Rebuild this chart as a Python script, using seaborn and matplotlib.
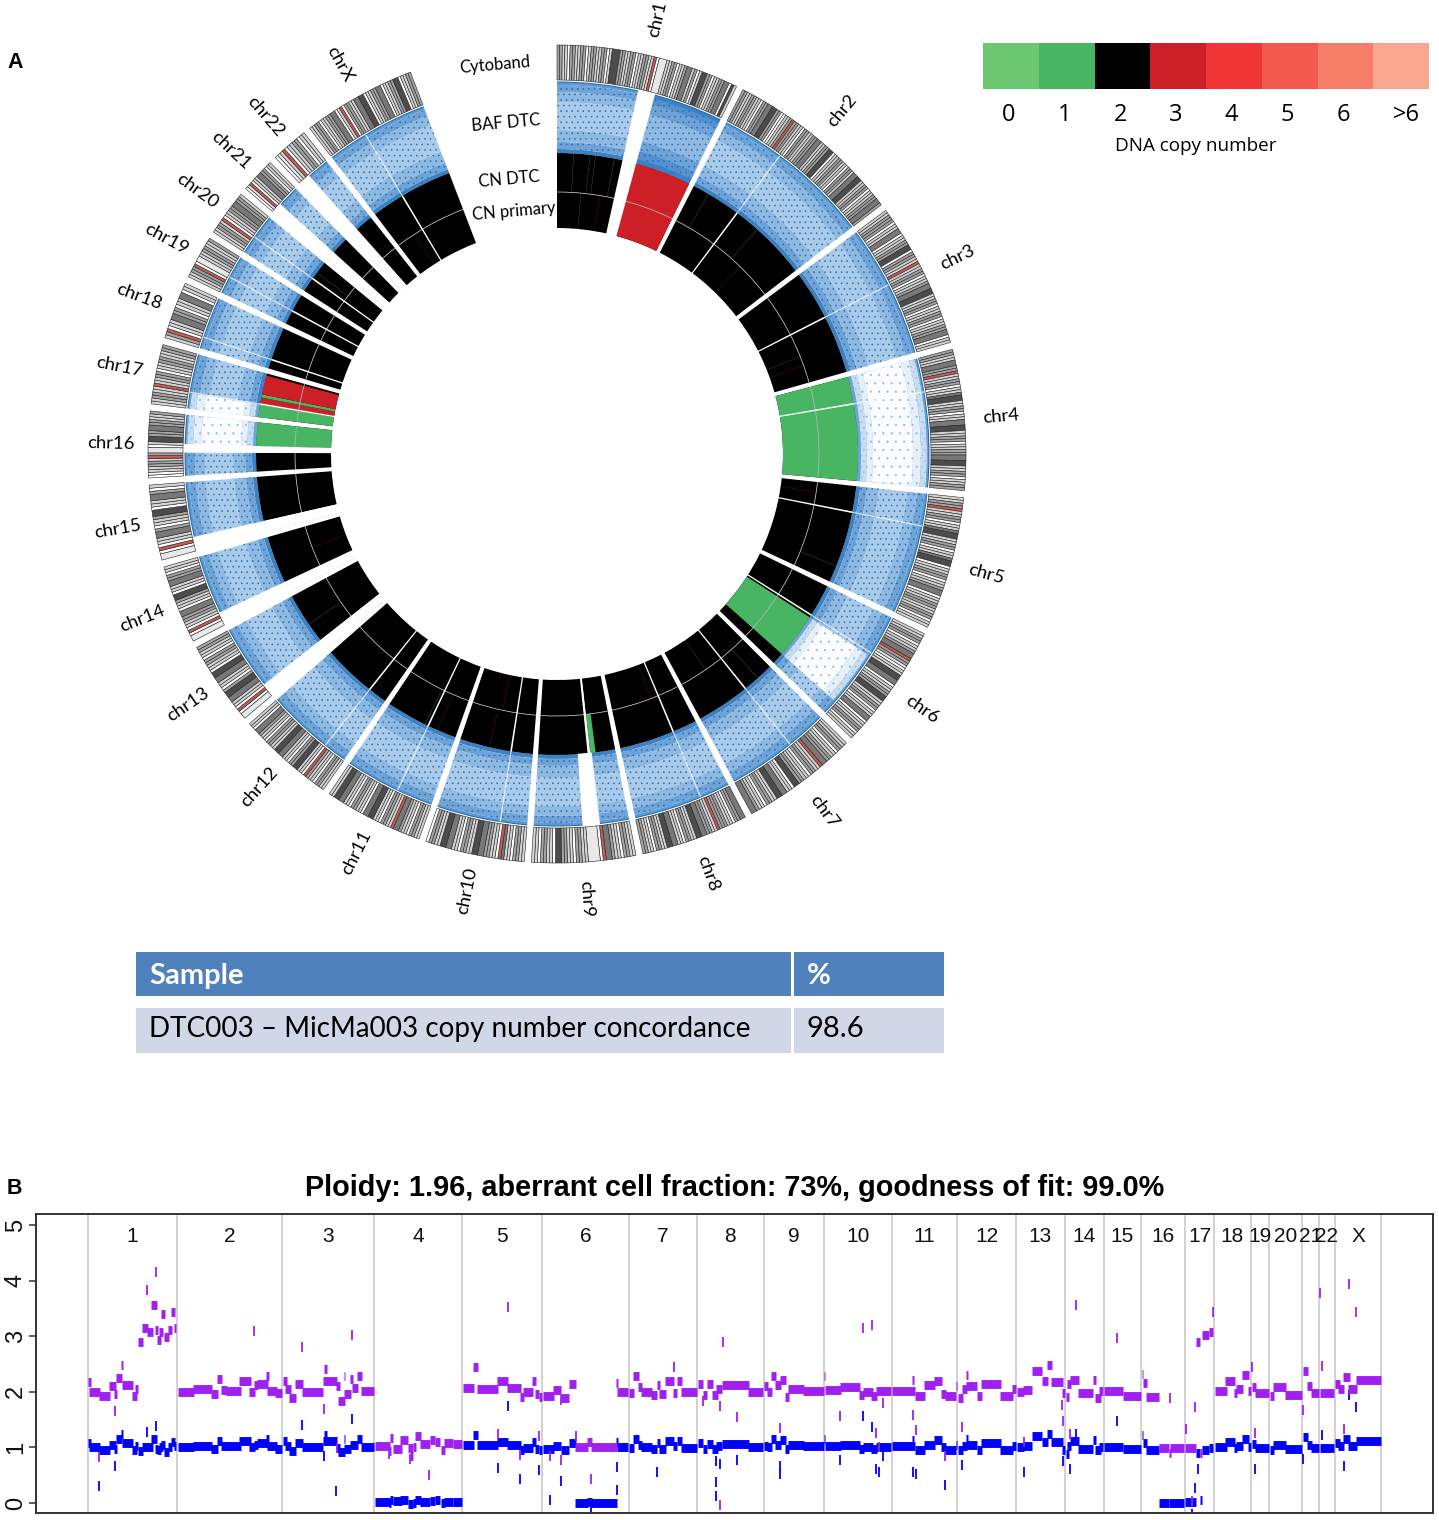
import numpy as np
import pandas as pd
import seaborn as sn
import matplotlib.pyplot as plt
from matplotlib.colors import ListedColormap

# chromosome sizes in Mb, and where the tracks have no probes
chrom_names = ["chr1", "chr2", "chr3", "chr4", "chr5", "chr6", "chr7", "chr8", "chr9", "chr10", "chr11", "chr12",
               "chr13", "chr14", "chr15", "chr16", "chr17", "chr18", "chr19", "chr20", "chr21", "chr22", "chrX"]
chrom_sizes = [249, 243, 198, 191, 181, 171, 159, 146, 141, 135, 135, 133, 115, 107, 102, 90, 81, 78, 59, 63, 48, 51, 155]
centromeres = [125, 93, 91, 50, 48, 60, 60, 45, 48, 40, 54, 35, 18, 17, 19, 36, 24, 17, 26, 27, 13, 15, 60]
baf_gaps = [("chr1", 121, 145), ("chr9", 44, 68), ("chr13", 0, 19), ("chr14", 0, 19), ("chr15", 0, 20),
            ("chr16", 35, 46), ("chr21", 0, 15), ("chr22", 0, 17)]
cn_gaps = [("chr1", 121, 145), ("chr9", 47, 50), ("chr13", 0, 19), ("chr14", 0, 19), ("chr15", 0, 20),
           ("chr16", 35, 46), ("chr21", 0, 15), ("chr22", 0, 17)]

# 0 white, 1 light, 2 mid, 3 dark, 4 darkest, r centromere, h pale
cytobands = [
    "2211022112201221122014442211220112211r0hhh1122011233120144220112233041",
    "2211221102233442200112r2211022112233112244011221102213344112201122332",
    "1122201133011224402211r1122011233441122011220112233011",
    "22113322r1122011344112201133441122011223344112201122",
    "1122r1122011344112201134401122011233011221122011",
    "1122011233r22h0114433011224411220113301122011",
    "11220112233r1122011224401133441122011233",
    "3322011222r1122334411220113344112201122",
    "1122011233r0hhhh1122011224401122011",
    "11220113r0112233441122011334411220",
    "1122011233r1122011443301122011334411",
    "11220112r011442201133441122011233011",
    "hh0r0113344201133440112201122",
    "hh0r01122330112440113322011",
    "hh0r01133201124401133201",
    "0011221r2hh0144223322112",
    "112211r1122011221122",
    "12r011332201133011",
    "1122r0hh1122112",
    "11221r0112233221",
    "0hr0113322011",
    "0h1r01122011",
    "1122011223301r0221133440112233011224401122",
]
band_colours = {"0": "#ffffff", "1": "#d4d4d4", "2": "#a4a4a4", "3": "#787878", "4": "#4c4c4c", "h": "#e8e8e8", "r": "#c85a58"}

# copy number calls in the circular plot
cn_labels = ["0", "1", "2", "3", "4", "5", "6", ">6"]
cn_colours = ["#6cc870", "#47b562", "#000000", "#cc1f26", "#ef3535", "#f3594c", "#f67d67", "#f9a68f"]
cn_changes = [("chr1", 145, 249, 3), ("chr4", 0, 191, 1), ("chr6", 65, 149, 1), ("chr16", 46, 90, 1),
              ("chr17", 0, 23, 1), ("chr17", 25, 36, 3), ("chr17", 36, 42, 1), ("chr17", 42, 77, 3)]
dtc_focal = [("chr1", 30, 1), ("chr1", 60, 1), ("chr1", 70, 1), ("chr1", 105, 1), ("chr2", 30, 1), ("chr2", 140, 1),
             ("chr5", 150, 1), ("chr7", 30, 1), ("chr9", 38, 1), ("chr11", 35, 3),
             ("chr11", 60, 1), ("chr13", 55, 1), ("chr10", 80, 3), ("chr20", 40, 1), ("chr22", 18, 3)]
primary_focal = [("chr1", 50, 1), ("chr1", 90, 3), ("chr2", 165, 3), ("chr3", 140, 1), ("chr3", 160, 3),
                 ("chr5", 20, 3), ("chr7", 100, 1), ("chr8", 60, 3), ("chr10", 70, 3), ("chr14", 60, 3), ("chrX", 40, 3)]

# BAF level: 1 = denser than normal, 2 = loss of heterozygosity
baf_changes = [("chr1", 145, 249, 1), ("chr4", 0, 191, 2), ("chr6", 65, 149, 2), ("chr16", 46, 90, 2), ("chr17", 0, 23, 2)]

track_labels = ["Cytoband", "BAF DTC", "CN DTC", "CN primary"]
table_header = ["Sample", "%"]
table_row = ["DTC003 \u2013 MicMa003 copy number concordance", "98.6"]

# panel B, segments as (start, end, upper copy number, lower copy number)
seg_chr1 = [(88, 91, 2.17, 1.08), (89, 100, 1.99, 1.0), (99, 110, 1.92, 0.95), (109, 116, 2.1, 1.05), (114, 117, 1.97, 0.97),
            (116, 122, 2.25, 1.15), (121, 123, 2.48, 1.24), (122, 133, 2.12, 1.08), (132, 137, 1.92, 0.95), (135, 138, 2.05, 1.03),
            (138, 143, 2.9, 0.93), (142, 148, 3.14, 1.0), (147, 153, 3.08, 1.0), (151, 157, 3.57, 1.15), (155, 158, 3.11, 0.97),
            (157, 161, 2.93, 0.95), (159, 163, 3.08, 1.0), (161, 165, 3.4, 1.05), (164, 169, 2.98, 0.92), (168, 172, 3.11, 1.0),
            (171, 175, 3.44, 1.1), (174, 176, 3.15, 1.03)]
seg_chr2 = [(178, 194, 2.0, 1.0), (193, 212, 2.06, 1.03), (211, 218, 1.96, 0.97), (217, 222, 2.23, 1.11), (221, 227, 2.03, 1.03),
            (226, 241, 2.02, 1.02), (239, 251, 2.2, 1.11), (249, 255, 2.0, 1.0), (254, 258, 2.12, 1.05), (257, 268, 2.14, 1.08),
            (266, 269, 2.28, 1.15), (267, 277, 2.02, 1.02), (275, 282, 1.98, 0.98)]
seg_chr3 = [(283, 287, 2.19, 1.11), (285, 291, 2.05, 1.03), (289, 296, 1.89, 0.93), (295, 303, 2.14, 1.08), (302, 323, 1.99, 1.0),
            (323, 337, 2.19, 1.11), (324, 327, 2.41, 1.23), (336, 340, 2.1, 0.99), (338, 345, 1.84, 0.91), (344, 351, 1.96, 0.97),
            (344, 345, 2.29, 1.15), (350, 353, 2.23, 1.05), (352, 358, 2.07, 1.05), (357, 362, 2.29, 1.15), (361, 374, 2.02, 1.0)]
seg_chr4 = [(375, 390, 1.03, 0.01), (390, 393, 1.17, 0.06), (389, 391, 0.93, 0.0), (393, 402, 0.97, 0.03), (400, 408, 1.14, 0.05),
            (408, 413, 0.99, -0.01), (410, 413, 0.84, -0.02), (415, 421, 1.2, 0.06), (413, 416, 1.0, 0.0), (420, 430, 1.07, 0.01),
            (430, 435, 1.14, 0.03), (435, 440, 1.1, 0.06), (441, 445, 0.96, 0.0), (444, 453, 1.08, 0.01), (453, 462, 1.06, 0.01)]
seg_chr5 = [(463, 474, 2.07, 1.04), (473, 478, 2.44, 1.22), (477, 498, 2.06, 1.04), (497, 508, 2.19, 1.1), (507, 521, 2.07, 1.05),
            (520, 524, 1.9, 0.96), (523, 533, 1.99, 0.99), (532, 536, 2.19, 1.1), (535, 539, 1.96, 0.98), (539, 542, 1.9, 0.95)]
seg_chr6 = [(543, 554, 1.93, 0.97), (553, 561, 2.04, 1.03), (561, 569, 1.89, 0.95), (569, 576, 2.14, 1.08), (575, 588, 1.01, 0.0),
            (587, 592, 1.1, 0.01), (591, 617, 1.0, 0.0), (616, 618, 2.16, 1.09), (617, 628, 1.99, 1.0)]
seg_chr7 = [(629, 634, 1.98, 0.99), (633, 639, 2.29, 1.15), (638, 642, 2.08, 1.05), (641, 652, 1.99, 1.0), (651, 657, 1.95, 0.97),
            (657, 660, 2.13, 1.08), (659, 666, 1.96, 0.98), (665, 674, 2.2, 1.11), (673, 677, 1.98, 1.02), (677, 682, 2.2, 1.11),
            (681, 697, 1.99, 0.99)]
seg_chr8 = [(698, 703, 2.14, 1.08), (703, 707, 1.95, 0.98), (707, 713, 2.14, 1.07), (712, 718, 1.95, 0.97), (716, 722, 2.05, 1.03),
            (722, 749, 2.12, 1.07), (748, 763, 2.0, 1.0)]
seg_chr9 = [(764, 768, 2.1, 1.03), (767, 772, 2.0, 1.0), (771, 776, 2.28, 1.15), (775, 781, 2.12, 1.05), (780, 786, 2.22, 1.14),
            (785, 789, 1.9, 0.97), (788, 804, 2.06, 1.05), (803, 824, 2.02, 1.02), (824, 825, 2.28, 1.15)]
seg_chr10 = [(825, 841, 2.04, 1.02), (840, 860, 2.08, 1.05), (859, 864, 1.95, 0.98), (863, 873, 1.99, 1.0), (871, 877, 1.92, 0.97),
             (876, 891, 2.02, 1.0)]
seg_chr11 = [(892, 915, 2.02, 1.03), (912, 914, 2.22, 1.14), (915, 925, 1.93, 0.96), (924, 935, 2.12, 1.05), (934, 942, 2.2, 1.13),
             (941, 946, 1.96, 1.0), (945, 956, 1.92, 0.96), (956, 957, 2.1, 1.05)]
seg_chr12 = [(958, 963, 1.89, 0.95), (962, 967, 2.06, 1.03), (966, 968, 2.3, 1.15), (966, 977, 2.1, 1.05), (977, 982, 1.92, 0.96),
             (981, 1001, 2.14, 1.08), (1000, 1013, 1.92, 0.96), (1012, 1016, 2.05, 1.03)]
seg_chr13 = [(1017, 1024, 1.99, 1.0), (1023, 1032, 2.04, 1.03), (1032, 1042, 2.38, 1.2), (1042, 1048, 2.19, 1.1), (1047, 1052, 2.49, 1.25),
             (1051, 1063, 2.17, 1.09), (1062, 1065, 1.98, 0.96)]
seg_chr14 = [(1066, 1069, 1.9, 0.89), (1067, 1071, 2.14, 1.03), (1070, 1079, 2.22, 1.11), (1078, 1093, 1.98, 0.98), (1093, 1096, 2.22, 1.13),
             (1095, 1101, 1.89, 0.95), (1099, 1103, 2.02, 1.0)]
seg_chr15 = [(1104, 1123, 2.02, 1.0), (1123, 1141, 1.93, 0.97)]
seg_chr16 = [(1142, 1143, 2.33, 1.23), (1143, 1147, 2.16, 1.08), (1146, 1159, 1.9, 0.96), (1159, 1169, 0.99, 0.0), (1169, 1171, 0.9, 0.0),
             (1170, 1184, 0.99, 0.0)]
seg_chr17 = [(1185, 1196, 0.99, 0.01), (1196, 1200, 2.89, 0.9), (1200, 1202, 0.9, 0.06), (1202, 1209, 3.03, 0.95), (1209, 1213, 3.08, 0.99)]
seg_chr18 = [(1215, 1227, 2.02, 1.0), (1225, 1235, 2.19, 1.1), (1234, 1237, 1.98, 0.99), (1236, 1243, 2.05, 1.03), (1242, 1249, 2.31, 1.15)]
seg_chr19 = [(1248, 1251, 2.02, 1.0), (1252, 1256, 2.08, 1.07), (1255, 1269, 1.98, 0.99)]
seg_chr20 = [(1270, 1274, 1.93, 0.96), (1273, 1286, 2.08, 1.05), (1285, 1302, 1.95, 0.97)]
seg_chr21 = [(1303, 1308, 2.38, 1.19), (1307, 1312, 2.1, 1.05), (1311, 1319, 1.98, 0.99)]
seg_chr22 = [(1320, 1334, 1.98, 0.99)]
seg_chrX = [(1335, 1340, 2.14, 1.08), (1338, 1344, 2.05, 1.03), (1343, 1350, 2.26, 1.15), (1348, 1357, 2.06, 1.03), (1356, 1381, 2.22, 1.11)]
all_segments = [seg_chr1, seg_chr2, seg_chr3, seg_chr4, seg_chr5, seg_chr6, seg_chr7, seg_chr8, seg_chr9, seg_chr10, seg_chr11, seg_chr12,
                seg_chr13, seg_chr14, seg_chr15, seg_chr16, seg_chr17, seg_chr18, seg_chr19, seg_chr20, seg_chr21, seg_chr22, seg_chrX]

# single probes away from the segments
upper_x = [156, 147, 115, 99, 254, 302, 352, 324, 337, 429, 410, 389, 508, 498, 520, 539, 550, 561, 561, 591, 576, 674, 723, 720,
           737, 703, 720, 780, 863, 872, 840, 876, 879, 883, 913, 916, 962, 945, 1076, 1117, 1062, 1063, 1070, 1170, 1195, 1186,
           1213, 1024, 1252, 1255, 1303, 1320, 1322, 1349, 1356, 1344, 1192]
upper_y = [4.15, 3.83, 1.65, 0.82, 3.1, 2.8, 3.02, 1.69, 0.99, 0.5, 0.8, 0.88, 3.52, 1.25, 0.87, 1.2, 0.85, 0.78, 1.85, 0.44, 1.2, 2.45, 2.89, 1.75,
           1.55, 1.83, -0.03, 1.35, 3.15, 3.2, 1.57, 1.26, 1.0, 1.8, 1.59, 1.31, 1.36, 0.84, 3.56, 2.96, 1.77, 1.48, 1.25, 1.89, 1.73, 1.33,
           3.43, 1.1, 2.44, 1.26, 1.67, 3.77, 2.47, 3.94, 3.44, 1.33, 0.03]
lower_x = [99, 115, 156, 147, 302, 352, 324, 336, 508, 498, 520, 539, 561, 550, 617, 617, 591, 657, 716, 720, 716, 716, 737, 780, 780,
           840, 863, 872, 876, 879, 913, 916, 962, 945, 883, 1024, 1063, 1070, 1076, 1117, 1198, 1195, 1255, 1344, 1356, 1349, 1322, 1303, 1192]
lower_y = [0.31, 0.67, 1.39, 1.27, 1.4, 1.52, 0.85, 0.22, 1.75, 0.63, 0.43, 0.59, 0.39, 0.06, 0.65, 0.24, -0.12, 0.56, 0.75, 0.7, 0.37, 0.13, 0.78, 0.67, 0.52,
           0.78, 1.57, 1.36, 0.62, 0.55, 0.55, 0.52, 0.68, 0.33, 0.85, 0.55, 0.75, 0.62, 1.25, 1.48, 0.62, 0.27, 0.62, 0.67, 1.72, 1.95, 1.23, 0.8, -0.2]
chrom_edges = [87.7, 176.7, 282.3, 374, 462.3, 542.3, 628.7, 697, 763.7, 824.3, 891.7, 957.3, 1016, 1065, 1103.7, 1141.3,
               1185.3, 1214, 1251, 1269, 1302, 1319.3, 1334.7, 1381.3]
chrom_short = [str(i) for i in range(1, 23)] + ["X"]
y_ticks = [0, 1, 2, 3, 4, 5]

title_b = "Ploidy: 1.96, aberrant cell fraction: 73%, goodness of fit: 99.0%"
purple = "#a020f0"
blue = "#0000ff"
baf_blue = "#1c68ae"
label_font = "Lato"
W, H = 1439, 1520

sn.set_theme(style="white")
plt.rcParams["hatch.linewidth"] = 0.35
fig = plt.figure(figsize=(W / 100, H / 100), dpi=100)


def px_rect(x0, y0, x1, y1):
    return [x0 / W, 1 - y1 / H, (x1 - x0) / W, (y1 - y0) / H]


# ---------- circular plot ----------
cx, cy, rmax = 557, 454, 470
polar = fig.add_axes(px_rect(cx - rmax, cy - rmax, cx + rmax, cy + rmax), projection="polar")
polar.set_theta_zero_location("N")
polar.set_theta_direction(-1)
polar.set_rlim(0, rmax)
polar.axis("off")

chrom_gap = 1.0
deg_per_mb = (339 - chrom_gap * 22) / sum(chrom_sizes)
chrom_start = {}
angle = 0.0
for name, size in zip(chrom_names, chrom_sizes):
    chrom_start[name] = angle
    angle += size * deg_per_mb + chrom_gap


def arc(name, start, end, r0, r1, **kwargs):
    t0 = np.deg2rad(chrom_start[name] + start * deg_per_mb)
    t1 = np.deg2rad(chrom_start[name] + end * deg_per_mb)
    kwargs.setdefault("linewidth", 0)
    polar.bar(t0, r1 - r0, width=t1 - t0, bottom=r0, align="edge", **kwargs)


# radial strips of the BAF track for each level: r0, r1, fill, hatch
baf_strips = {
    0: [(301, 305, "#3a82c5", None), (305, 312, "#6fa3d7", "..."), (312, 324, "#8fb9e0", "..."), (324, 352, "#a9cbe9", "..."),
        (352, 362, "#8fb9e0", "..."), (362, 369, "#6fa3d7", "..."), (369, 372, "#5c9ad2", None)],
    1: [(301, 306, "#3a82c5", None), (306, 314, "#5790ce", "..."), (314, 324, "#6fa3d7", "..."), (324, 352, "#8fb9e0", "..."),
        (352, 362, "#6fa3d7", "..."), (362, 368, "#5790ce", "..."), (368, 372, "#3a82c5", None)],
    2: [(301, 304, "#6ea3d6", None), (304, 310, "#c8ddf1", "..."), (310, 316, "#e6f0f8", ".."), (316, 356, "#fbfcfe", ".."),
        (356, 364, "#e6f0f8", ".."), (364, 370, "#c8ddf1", "..."), (370, 372, "#6ea3d6", None)],
}
loh_dot = "#8dbbe2"


def draw_baf(name, start, end, level):
    for r0, r1, fill, hatch in baf_strips[level]:
        dots = loh_dot if level == 2 else baf_blue
        arc(name, start, end, r0, r1, color=fill, edgecolor=dots, hatch=hatch)


for i, name in enumerate(chrom_names):
    size = chrom_sizes[i]
    # cytoband ring, only dark and pale neighbours join into one block
    bands = cytobands[i]
    step = size / len(bands)
    j = 0
    while j < len(bands):
        k = j
        while bands[j] in "34h" and k + 1 < len(bands) and bands[k + 1] == bands[j]:
            k += 1
        arc(name, j * step, (k + 1) * step, 374, 409, color=band_colours[bands[j]], edgecolor="#222222", linewidth=0.4)
        j = k + 1
    draw_baf(name, 0, size, 0)
    arc(name, 0, size, 262, 301, color=cn_colours[2])
    arc(name, 0, size, 226, 262, color=cn_colours[2])

for name, start, end, level in baf_changes:
    draw_baf(name, start, end, level)
for name, start, end, cn in cn_changes:
    arc(name, start, end, 226, 301, color=cn_colours[cn])
for name, pos, cn in dtc_focal:
    arc(name, pos, pos + 0.9, 262, 301, color=cn_colours[cn], alpha=0.55)
for name, pos, cn in primary_focal:
    arc(name, pos, pos + 0.9, 226, 262, color=cn_colours[cn], alpha=0.55)
arc("chr9", 36, 46, 262, 301, color=cn_colours[1])

# thin lines between the tracks
for name, size in zip(chrom_names, chrom_sizes):
    arc(name, 0, size, 261.6, 262.4, color="#b5b5b5")
    arc(name, 0, size, 371.5, 372.5, color=baf_blue)

# centromere lines and the regions without probes, slightly wider to hide the seams
for name, cen in zip(chrom_names, centromeres):
    arc(name, cen - 1.5, cen + 1.5, 225, 301, color="white")
    arc(name, cen - 1, cen + 1, 301, 372, color="white", alpha=0.7)
for name, start, end in baf_gaps:
    arc(name, start - 0.8, end + 0.8, 300.5, 373.2, color="white")
for name, start, end in cn_gaps:
    arc(name, start - 0.8, end + 0.8, 225, 301, color="white")

for name, size in zip(chrom_names, chrom_sizes):
    mid = chrom_start[name] + size * deg_per_mb / 2
    rot = 90 - mid if mid < 180 else 270 - mid
    polar.text(np.deg2rad(mid), 446, name, rotation=rot, rotation_mode="anchor", ha="center", va="center",
               family=label_font, fontsize=13.3, color="black")

# ---------- everything placed on the page ----------
page = fig.add_axes([0, 0, 1, 1], zorder=5)
page.set_xlim(0, W)
page.set_ylim(H, 0)
page.axis("off")
page.patch.set_alpha(0)

page.text(15, 62, "A", fontsize=15.5, fontweight="bold", family="Liberation Sans", ha="center", va="center", color="black")
page.text(14, 1189, "B", fontsize=15.5, fontweight="bold", family="Liberation Sans", ha="center", va="center", color="black")

for text, x, y in zip(track_labels, [495, 506, 509, 514], [65, 123, 179, 211]):
    page.text(x, y, text, rotation=5, rotation_mode="anchor", ha="center", va="center", family=label_font, fontsize=12, color="black")

# table
page.fill_between([136, 944], 952, 996, color="#4f81bd", linewidth=0)
page.fill_between([136, 944], 1008, 1053, color="#d0d8e8", linewidth=0)
page.fill_between([791, 794], 952, 1053, color="white", linewidth=0)
page.text(149, 976, table_header[0], color="white", fontweight="bold", family=label_font, fontsize=21, va="center")
page.text(807, 976, table_header[1], color="white", fontweight="bold", family=label_font, fontsize=21, va="center")
page.text(149, 1029, table_row[0], color="black", family=label_font, fontsize=20.1, va="center")
page.text(807, 1029, table_row[1], color="black", family=label_font, fontsize=21, va="center")

# ---------- copy number legend ----------
leg = fig.add_axes(px_rect(983, 43, 1429, 89))
sn.heatmap(np.arange(8).reshape(1, 8), cmap=ListedColormap(cn_colours), cbar=False, ax=leg, vmin=-0.5, vmax=7.5,
           xticklabels=cn_labels, yticklabels=False)
leg.set_xticks([0.46, 1.46, 2.46, 3.46, 4.46, 5.46, 6.46, 7.6])
leg.set_xticklabels(cn_labels, family="Open Sans")
leg.tick_params(axis="x", length=0, pad=10, labelsize=17, labelrotation=0, colors="black")
leg.set_xlabel("DNA copy number", family="Open Sans", fontsize=13.6, color="black", labelpad=7, x=0.478)

# ---------- panel B ----------
ax = fig.add_axes(px_rect(36, 1214, 1433, 1513))
rows = []
for seg_id, (start, end, high, low) in enumerate(s for chrom in all_segments for s in chrom):
    rows.append(("low", seg_id, start, low))
    rows.append(("low", seg_id, end, low))
    rows.append(("high", seg_id, start, high))
    rows.append(("high", seg_id, end, high))
segments = pd.DataFrame(rows, columns=["series", "seg", "pos", "cn"])

ax.vlines(chrom_edges, -0.18, 5.2, color="#d2d2d2", linewidth=1.4, zorder=0)
sn.lineplot(data=segments, x="pos", y="cn", hue="series", hue_order=["low", "high"], palette=[blue, purple], units="seg",
            estimator=None, sort=False, linewidth=6.4, solid_capstyle="butt", legend=False, ax=ax, zorder=3)
sn.scatterplot(x=lower_x, y=lower_y, marker="|", s=42, linewidth=1.3, color=blue, ax=ax, zorder=2)
sn.scatterplot(x=upper_x, y=upper_y, marker="|", s=42, linewidth=1.3, color=purple, ax=ax, zorder=4)

ax.set_xlim(36, 1433)
ax.set_ylim(-0.18, 5.2)
ax.set_xlabel("")
ax.set_ylabel("")
ax.set_xticks([])
ax.set_yticks(y_ticks)
ax.set_yticklabels([str(v) for v in y_ticks], rotation=90, va="center", family="Liberation Sans", fontsize=17, color="#111111")
ax.tick_params(axis="y", left=True, length=5, width=1.1, color="#333333", pad=1.5)
for spine in ax.spines.values():
    spine.set_visible(True)
    spine.set_color("#333333")
    spine.set_linewidth(1.4)
for i, label in enumerate(chrom_short):
    ax.text((chrom_edges[i] + chrom_edges[i + 1]) / 2, 4.8, label, ha="center", va="center",
            family="Liberation Sans", fontsize=15, color="#111111")
ax.set_title(title_b, family="Liberation Sans", fontweight="bold", fontsize=20.8, color="black", x=(735 - 36) / (1433 - 36), pad=13)

plt.savefig("out.png", dpi=100)
